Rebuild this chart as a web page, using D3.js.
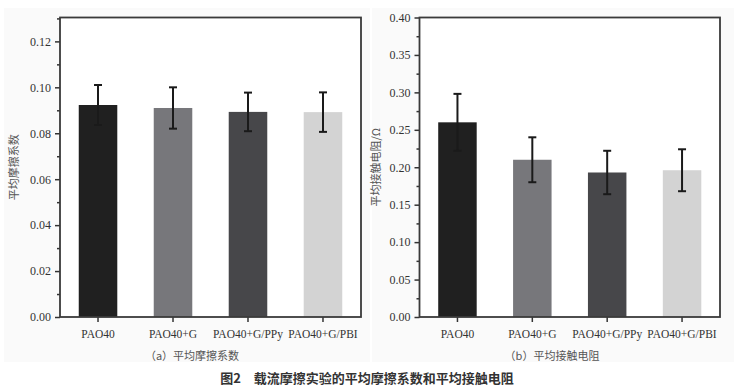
<!DOCTYPE html>
<html>
<head>
<meta charset="utf-8">
<script src="https://cdn.jsdelivr.net/npm/d3@7"></script>
<style>
  body { margin: 0; background: #fff; }
  svg { display: block; }
</style>
</head>
<body>
<svg id="chart"></svg>
<script>
const categories = ["PAO40", "PAO40+G", "PAO40+G/PPy", "PAO40+G/PBI"];
const frictionMean = [0.0923, 0.0910, 0.0893, 0.0892];
const frictionErr = [0.0087, 0.0090, 0.0084, 0.0086];
const resistMean = [0.260, 0.210, 0.193, 0.196];
const resistErr = [0.038, 0.030, 0.029, 0.028];
const frictionTicks = [0, 0.02, 0.04, 0.06, 0.08, 0.10, 0.12];
const resistTicks = [0, 0.05, 0.10, 0.15, 0.20, 0.25, 0.30, 0.35, 0.40];
const barColors = ["#202020", "#77777b", "#47474a", "#d3d3d3"];

const W = 740, H = 389;
const svg = d3.select("#chart").attr("width", W).attr("height", H);

// pale panel backgrounds, like the scanned figure
svg.append("rect").attr("x", 4).attr("y", 8).attr("width", 366).attr("height", 354).attr("fill", "#fafafa");
svg.append("rect").attr("x", 372).attr("y", 8).attr("width", 362).attr("height", 354).attr("fill", "#fafafa");

function panel(opt) {
  const x = d3.scaleBand()
      .domain(categories)
      .range([opt.left, opt.right])
      .paddingInner(0.486)
      .paddingOuter(0.25);

  const y = d3.scaleLinear()
      .domain(opt.domain)
      .range([opt.bottom, opt.top]);

  const g = svg.append("g");

  g.append("rect")
      .attr("x", opt.left).attr("y", opt.top)
      .attr("width", opt.right - opt.left)
      .attr("height", opt.bottom - opt.top)
      .attr("fill", "#fff");

  g.selectAll(".bar")
      .data(opt.mean)
      .enter().append("rect")
      .attr("class", "bar")
      .attr("x", (d, i) => x(categories[i]))
      .attr("y", d => y(d))
      .attr("width", x.bandwidth())
      .attr("height", d => opt.bottom - y(d))
      .attr("fill", (d, i) => barColors[i]);

  // error bars
  const eb = g.selectAll(".err")
      .data(opt.mean.map((m, i) => ({ m: m, e: opt.err[i], c: categories[i] })))
      .enter().append("g")
      .attr("class", "err")
      .attr("stroke", "#1a1a1a")
      .attr("stroke-width", 2);
  eb.append("line")
      .attr("x1", d => x(d.c) + x.bandwidth() / 2)
      .attr("x2", d => x(d.c) + x.bandwidth() / 2)
      .attr("y1", d => y(d.m + d.e))
      .attr("y2", d => y(d.m - d.e));
  eb.append("line")
      .attr("x1", d => x(d.c) + x.bandwidth() / 2 - 4)
      .attr("x2", d => x(d.c) + x.bandwidth() / 2 + 4)
      .attr("y1", d => y(d.m + d.e))
      .attr("y2", d => y(d.m + d.e));
  eb.append("line")
      .attr("x1", d => x(d.c) + x.bandwidth() / 2 - 4)
      .attr("x2", d => x(d.c) + x.bandwidth() / 2 + 4)
      .attr("y1", d => y(d.m - d.e))
      .attr("y2", d => y(d.m - d.e));

  // minor ticks
  g.append("g")
      .attr("transform", `translate(${opt.left},0)`)
      .call(d3.axisLeft(y).tickValues(opt.minor).tickSize(3).tickFormat(""))
      .call(a => a.select(".domain").remove())
      .selectAll("line").attr("stroke", "#333").attr("stroke-width", 1.5);

  const yAxis = g.append("g")
      .attr("transform", `translate(${opt.left},0)`)
      .call(d3.axisLeft(y).tickValues(opt.ticks).tickSize(5).tickPadding(4).tickFormat(d3.format(".2f")));
  yAxis.select(".domain").remove();
  yAxis.selectAll("line").attr("stroke", "#333").attr("stroke-width", 1.5);
  yAxis.selectAll("text")
      .attr("fill", "#333")
      .style("font-family", "'Liberation Serif', 'Times New Roman', serif")
      .style("font-size", "12px");

  const xAxis = g.append("g")
      .attr("transform", `translate(0,${opt.bottom})`)
      .call(d3.axisBottom(x).tickSize(5).tickPadding(8));
  xAxis.select(".domain").remove();
  xAxis.selectAll("line").attr("stroke", "#333").attr("stroke-width", 1.5);
  xAxis.selectAll("text")
      .attr("fill", "#333")
      .style("font-family", "'Liberation Serif', 'Times New Roman', serif")
      .style("font-size", "11.5px");

  // frame
  g.append("rect")
      .attr("x", opt.left).attr("y", opt.top)
      .attr("width", opt.right - opt.left)
      .attr("height", opt.bottom - opt.top)
      .attr("fill", "none")
      .attr("stroke", "#3a3a3a")
      .attr("stroke-width", 1.8);

  g.append("text")
      .attr("transform", `translate(${opt.titleX},${(opt.top + opt.bottom) / 2}) rotate(-90)`)
      .attr("text-anchor", "middle")
      .attr("dominant-baseline", "central")
      .attr("fill", "#555")
      .style("font-family", "'Noto Sans CJK SC', sans-serif")
      .style("font-size", "11px")
      .text(opt.yTitle);

  g.append("text")
      .attr("x", opt.subX)
      .attr("y", 360)
      .attr("text-anchor", "middle")
      .attr("fill", "#555")
      .style("font-family", "'Noto Sans CJK SC', sans-serif")
      .style("font-size", "11px")
      .text(opt.sub);
}

panel({
  left: 60, right: 361, top: 17.5, bottom: 317,
  domain: [0, 0.1304],
  ticks: frictionTicks,
  minor: [0.01, 0.03, 0.05, 0.07, 0.09, 0.11, 0.13],
  mean: frictionMean, err: frictionErr,
  yTitle: "平均摩擦系数", titleX: 13,
  sub: "（a）平均摩擦系数", subX: 192
});

panel({
  left: 419.5, right: 720, top: 17.5, bottom: 317,
  domain: [0, 0.40],
  ticks: resistTicks,
  minor: [0.025, 0.075, 0.125, 0.175, 0.225, 0.275, 0.325, 0.375],
  mean: resistMean, err: resistErr,
  yTitle: "平均接触电阻/Ω", titleX: 375,
  sub: "（b）平均接触电阻", subX: 552
});

svg.append("text")
    .attr("x", 367)
    .attr("y", 383)
    .attr("text-anchor", "middle")
    .attr("fill", "#333")
    .style("font-family", "'Noto Sans CJK SC', sans-serif")
    .style("font-size", "13px")
    .style("font-weight", "bold")
    .text("图2　载流摩擦实验的平均摩擦系数和平均接触电阻");
</script>
</body>
</html>
